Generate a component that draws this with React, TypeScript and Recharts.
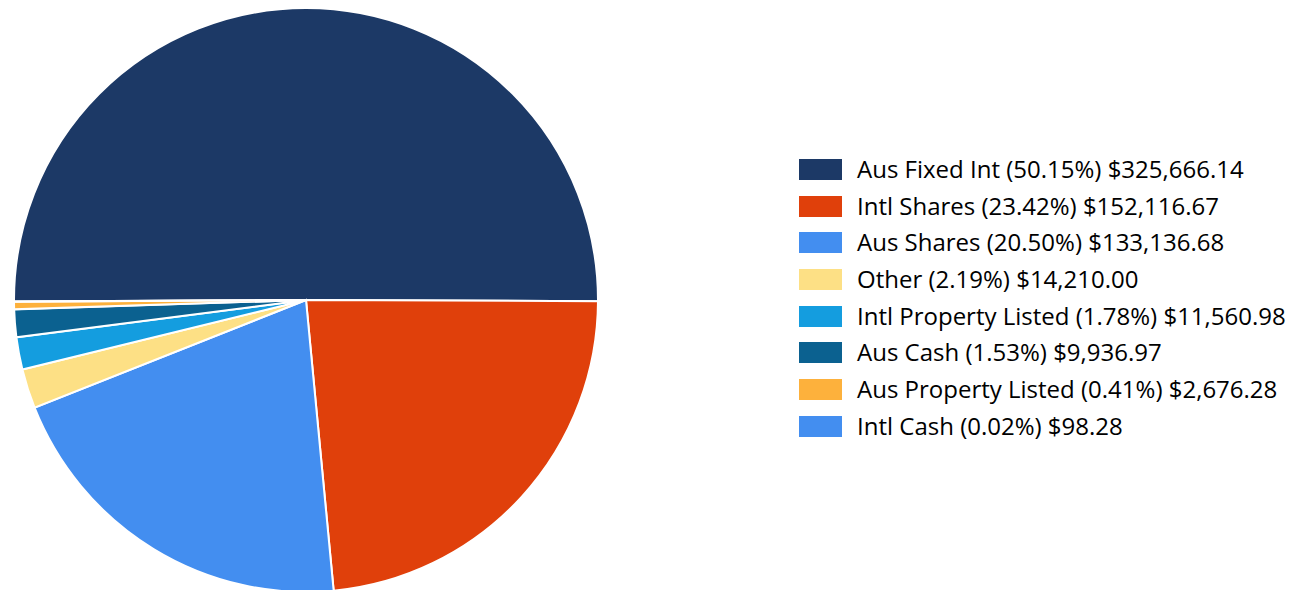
import { PieChart, Pie, Cell, Legend } from "recharts"

const categories = [
  "Aus Fixed Int",
  "Intl Shares",
  "Aus Shares",
  "Other",
  "Intl Property Listed",
  "Aus Cash",
  "Aus Property Listed",
  "Intl Cash",
]
const amounts = [325666.14, 152116.67, 133136.68, 14210.0, 11560.98, 9936.97, 2676.28, 98.28]
const percentLabels = ["50.15%", "23.42%", "20.50%", "2.19%", "1.78%", "1.53%", "0.41%", "0.02%"]
const colours = ["#1c3966", "#e0400b", "#438ef0", "#fde085", "#149ddf", "#0b6190", "#fdb13c", "#438ef0"]

const data = categories.map((name, i) => ({ name, value: amounts[i] }))

function money(v: number) {
  return "$" + v.toLocaleString("en-US", { minimumFractionDigits: 2, maximumFractionDigits: 2 })
}

function LegendList() {
  return (
    <div style={{ fontFamily: "'Open Sans', sans-serif", fontSize: 24, color: "#000" }}>
      {data.map((d, i) => (
        <div key={d.name} style={{ display: "flex", alignItems: "center", height: 36.7 }}>
          <span
            style={{ width: 43, height: 21, background: colours[i], marginRight: 15, flexShrink: 0 }}
          />
          <span style={{ whiteSpace: "nowrap", lineHeight: "36.7px" }}>
            {d.name} ({percentLabels[i]}) {money(d.value)}
          </span>
        </div>
      ))}
    </div>
  )
}

export default function App() {
  return (
    <div style={{ width: 1293, height: 590, background: "#fff" }}>
      <style>{"body{margin:0}"}</style>
      <PieChart width={1293} height={590} margin={{ top: 0, right: 0, bottom: 0, left: 0 }}>
        <Pie
          data={data}
          dataKey="value"
          nameKey="name"
          cx={306}
          cy={300}
          outerRadius={292}
          startAngle={180.3}
          endAngle={-179.7}
          stroke="#fff"
          strokeWidth={2}
          isAnimationActive={false}
        >
          {data.map((d, i) => (
            <Cell key={`cell-${i}`} fill={colours[i]} />
          ))}
        </Pie>
        <Legend
          content={() => <LegendList />}
          wrapperStyle={{ position: "absolute", left: 799, top: 151, width: 494 }}
        />
      </PieChart>
    </div>
  )
}
